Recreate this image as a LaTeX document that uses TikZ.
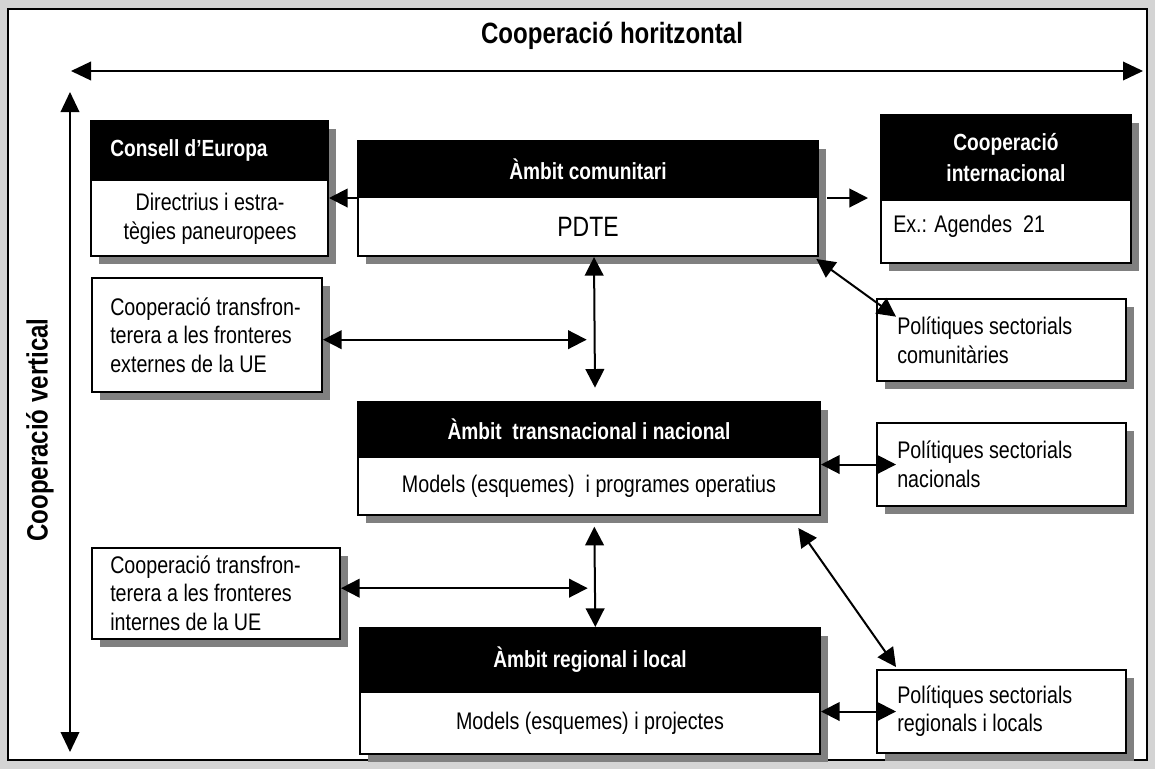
\documentclass[tikz,border=0pt]{standalone}
\usepackage{fontspec}
\setmainfont[FakeStretch=0.82]{Liberation Sans}
\usetikzlibrary{arrows.meta,fit,shadows}
\definecolor{framegray}{RGB}{212,212,212}
\definecolor{shadowgray}{RGB}{128,128,128}
\newcommand{\boxline}{1.5pt}
\newcommand{\tiplen}{14pt}
\newcommand{\bodysize}{\fontsize{18}{21.5}\selectfont}
\newcommand{\headsize}{\fontsize{17.5}{23}\selectfont}

\tikzset{
  box/.style={draw, fill=white, line width=\boxline, inner sep=0pt,
    drop shadow={shadow xshift=6pt, shadow yshift=-6pt, fill=shadowgray, opacity=1}},
  head/.style={draw, fill=black, line width=\boxline, inner sep=0pt},
  headtext/.style={text=white, font=\headsize\bfseries, align=center, inner sep=0pt},
  body/.style={font=\bodysize, align=left, inner sep=0pt},
  toplabel/.style={font=\fontsize{22}{26}\selectfont\bfseries, inner sep=0pt},
  dbl/.style={{Triangle[length=\tiplen,width=\tiplen]}-{Triangle[length=\tiplen,width=\tiplen]}, line width=1.5pt},
  arr/.style={-{Triangle[length=\tiplen,width=\tiplen]}, line width=1.5pt},
  longarr/.style={{Triangle[length=15pt,width=14pt]}-{Triangle[length=15pt,width=14pt]}, line width=1.1pt}
}

\begin{document}
\begin{tikzpicture}[x=0.75pt,y=-0.75pt]
\useasboundingbox (0,0) rectangle (1155,769);
\fill[framegray] (0,0) rectangle (1155,769);
\draw[fill=white, line width=1.5pt] (8,9) rectangle (1147,760);

% axes
\node[toplabel] (horiz) at (612,36) {Cooperació horitzontal};
\node[toplabel, rotate=90] (vert) at (40,430) {Cooperació vertical};
\coordinate (hl) at (71,71);
\coordinate (hr) at (1143,71);
\coordinate (vt) at (70,92);
\coordinate (vb) at (70,752);
\draw[longarr] (hl) -- (hr);
\draw[longarr] (vt) -- (vb);

% top row
\node[box, fit={(91,121) (328,256)}] (cons) {};
\node[head, fit={(91,121) (328,180)}] (consHead) {};
\node[headtext, anchor=west] at ([xshift=15pt]consHead.west) {Consell d’Europa};
\node[body, align=center] at (210,219) {Directrius i estra-\\tègies paneuropees};

\node[box, fit={(358,141) (818,256)}] (com) {};
\node[head, fit={(358,141) (818,197)}] (comHead) {};
\node[headtext] at (comHead.center) {Àmbit comunitari};
\node[body, font=\fontsize{21}{24}\selectfont] at (588,227) {PDTE};

\node[box, fit={(881,115) (1131,263)}] (intl) {};
\node[head, fit={(881,115) (1131,200)}] (intlHead) {};
\node[headtext] at (intlHead.center) {Cooperació\\internacional};
\node[body, anchor=west] at (893,226) {Ex.: Agendes\ \ 21};

% middle
\node[box, fit={(92,278) (322,392)}] (ext) {};
\node[body, anchor=west] at (110,335) {Cooperació transfron-\\terera a les fronteres\\externes de la UE};

\node[box, fit={(877,299) (1126,381)}] (polc) {};
\node[body, anchor=west] at (897,340) {Polítiques sectorials\\comunitàries};

\node[box, fit={(358,402) (820,515)}] (trans) {};
\node[head, fit={(358,402) (820,457)}] (transHead) {};
\node[headtext] at (transHead.center) {Àmbit\ \ transnacional i nacional};
\node[body] at (589,486) {Models (esquemes)\ \ i programes operatius};

\node[box, fit={(877,423) (1126,506)}] (poln) {};
\node[body, anchor=west] at (897,464) {Polítiques sectorials\\nacionals};

% bottom
\node[box, fit={(92,548) (340,639)}] (int) {};
\node[body, anchor=west] at (110,593) {Cooperació transfron-\\terera a les fronteres\\internes de la UE};

\node[box, fit={(360,628) (820,754)}] (reg) {};
\node[head, fit={(360,628) (820,692)}] (regHead) {};
\node[headtext] at (regHead.center) {Àmbit regional i local};
\node[body] at (590,723) {Models (esquemes) i projectes};

\node[box, fit={(877,670) (1126,753)}] (polr) {};
\node[body, anchor=west] at (897,711) {Polítiques sectorials\\regionals i locals};

% connectors
\draw[arr] (comHead.south west) -- (cons.east |- comHead.south west);
\draw[arr] ([xshift=6pt]comHead.south east) -- ([xshift=-9pt]intl.west |- comHead.south east);
\draw[dbl] ([xshift=4.5pt]com.south) -- ([xshift=4.5pt,yshift=10pt]trans.north);
\draw[dbl] ([yshift=-3.5pt]ext.east) -- ([yshift=-3.5pt,xshift=-1pt]ext.east -| com.south);
\draw[dbl] ([xshift=4pt,yshift=-8pt]trans.south) -- ([xshift=4pt]reg.north);
\draw[dbl] ([yshift=4pt]int.east) -- ([yshift=4pt,xshift=-1pt]int.east -| trans.south);
\draw[dbl] ([shift={(-2pt,-1.5pt)}]com.south east) -- ([shift={(15pt,-14pt)}]polc.north west);
\draw[dbl] (trans.east |- poln.west) -- ([xshift=15pt]poln.west);
\draw[dbl] ([shift={(-17pt,-9pt)}]trans.south east) -- ([shift={(15pt,1.5pt)}]polr.north west);
\draw[dbl] (reg.east |- polr.west) -- ([xshift=15pt]polr.west);
\end{tikzpicture}
\end{document}
